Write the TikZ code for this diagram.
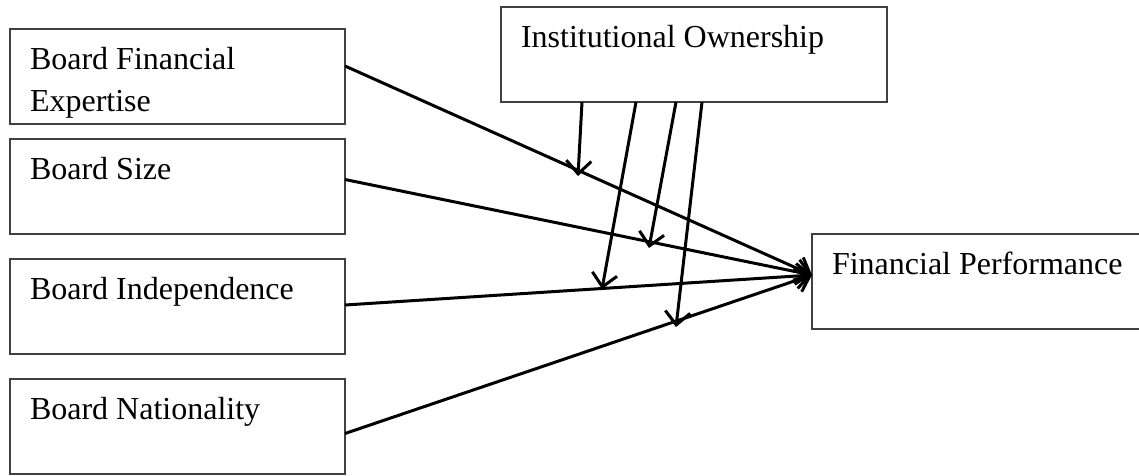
\documentclass[tikz,border=0pt]{standalone}
\usepackage{fontspec}
\setmainfont{Liberation Serif}
\usetikzlibrary{arrows.meta,calc}
\newcommand{\boxtext}[2]{\parbox[c][59pt][t]{#1}{\fontsize{32pt}{42pt}\selectfont #2}}
\tikzset{
  varbox/.style={draw=black!75, line width=1.8pt, anchor=north west,
    inner xsep=20pt, inner ysep=18pt, outer sep=0pt},
  link/.style={line width=3pt, -{Straight Barb[length=13pt,width=25pt,line width=3pt]}}
}
\begin{document}
\begin{tikzpicture}[x=1pt,y=-1pt]
\useasboundingbox (0,0) rectangle (1139,475);
\node[varbox] (bfe) at (10,29) {\boxtext{295pt}{Board Financial\\Expertise}};
\node[varbox] (bs) at (10,139) {\boxtext{295pt}{Board Size}};
\node[varbox] (bi) at (10,259) {\boxtext{295pt}{Board Independence}};
\node[varbox] (bn) at (10,379) {\boxtext{295pt}{Board Nationality}};
\node[varbox] (io) at (501,7) {\boxtext{346pt}{Institutional Ownership}};
\node[varbox] (fp) at (812,234) {\boxtext{300pt}{Financial Performance}};

\coordinate (m1) at (578,176);
\coordinate (m2) at (649,248);
\coordinate (m3) at (602,289);
\coordinate (m4) at (676,327);

\draw[link] ([yshift=10.5pt]bfe.east) -- ([yshift=6.5pt]fp.west);
\draw[link] ([yshift=7pt]bs.east) -- ([yshift=6.5pt]fp.west);
\draw[link] ([yshift=1.5pt]bi.east) -- ([yshift=6.5pt]fp.west);
\draw[link] ([yshift=-7pt]bn.east) -- ([yshift=6.5pt]fp.west);

\draw[link] ([xshift=81pt]io.south west) -- (m1);
\draw[link] ([xshift=135pt]io.south west) -- (m3);
\draw[link] ([xshift=175pt]io.south west) -- (m2);
\draw[link] ([xshift=201pt]io.south west) -- (m4);
\end{tikzpicture}
\end{document}
